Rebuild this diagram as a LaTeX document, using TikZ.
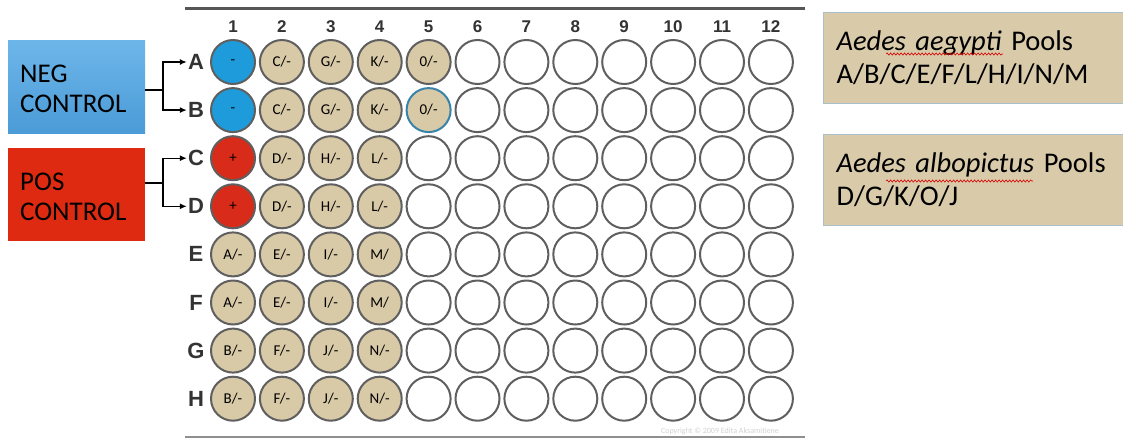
\documentclass[tikz,border=0pt]{standalone}
\usepackage{fontspec}
\setmainfont{Carlito}
\newfontfamily\arialfont{Liberation Sans}
\usetikzlibrary{arrows.meta,decorations.pathmorphing}
\definecolor{wellgray}{HTML}{5F5F5F}
\definecolor{tanwell}{HTML}{D8C9A7}
\definecolor{tanbox}{HTML}{D9CBAA}
\definecolor{tanedge}{HTML}{A9BFCC}
\definecolor{negwell}{HTML}{1E9BDA}
\definecolor{poswell}{HTML}{D92B1A}
\definecolor{negtop}{HTML}{6DB6EA}
\definecolor{negbot}{HTML}{4B9BD7}
\definecolor{posfill}{HTML}{DF2A12}
\definecolor{labgray}{HTML}{333333}
\tikzset{
  well/.style={circle, minimum size=44, inner sep=0, draw=wellgray, line width=2,
    font=\fontsize{15}{15}\selectfont, text=black},
  emptywell/.style={well, fill=white},
  rowlab/.style={font=\arialfont\bfseries\fontsize{22}{22}\selectfont, text=labgray, inner sep=1},
  collab/.style={font=\arialfont\bfseries\fontsize{17}{17}\selectfont, text=labgray},
  ctrlbox/.style={rectangle, minimum width=137, minimum height=93, anchor=north west, inner sep=0},
  ctrltext/.style={anchor=west, align=left, inner sep=0, font=\fontsize{27}{30}\selectfont, text=black},
  poolbox/.style={rectangle, fill=tanbox, draw=tanedge, line width=1, anchor=north west,
    minimum width=310, minimum height=91, text width=290, align=left, inner xsep=13,
    font=\fontsize{28.5}{33}\selectfont},
  bracket/.style={line width=1.4, black},
  arr/.style={bracket, -{Latex[length=7,width=6]}},
  squiggle/.style={red!85!black, line width=0.6, decorate,
    decoration={snake, amplitude=1.1, segment length=3.5}}
}
\begin{document}
\begin{tikzpicture}[x=1pt,y=-1pt]
\useasboundingbox[fill=white] (0,0) rectangle (1123,442);
% plate frame lines
\draw[draw=wellgray!90!black, line width=3] (185,8) -- (805,8);
\draw[draw=wellgray!70, line width=2.5] (185,437) -- (805,437);
% column headers
\foreach \c in {1,...,12}
  \node[collab] (col\c) at ({233+(\c-1)*48.9},27) {\c};
% row labels
\foreach \r/\L in {1/A,2/B,3/C,4/D,5/E,6/F,7/G,8/H}
  \node[rowlab] (lbl\L) at (196,{62+(\r-1)*48.1}) {\L};
% empty wells
\foreach \r/\L in {1/A,2/B,3/C,4/D,5/E,6/F,7/G,8/H}{
  \foreach \c in {6,...,12}{
    \node[emptywell] (w\L\c) at ({233+(\c-1)*48.9},{62+(\r-1)*48.1}) {};
  }
}
\foreach \r/\L in {3/C,4/D,5/E,6/F,7/G,8/H}
  \node[emptywell] (w\L5) at (428.6,{62+(\r-1)*48.1}) {};
% control wells
\node[well, fill=negwell] (wA1) at (233,62) {-};
\node[well, fill=negwell] (wB1) at (233,110.1) {-};
\node[well, fill=poswell] (wC1) at (233,158.2) {+};
\node[well, fill=poswell] (wD1) at (233,206.3) {+};
% sample wells
\foreach \r/\L/\a/\b/\d in
  {1/A/C/G/K, 2/B/C/G/K, 3/C/D/H/L, 4/D/D/H/L, 7/G/F/J/N, 8/H/F/J/N}{
  \node[well, fill=tanwell] (w\L2) at (281.9,{62+(\r-1)*48.1}) {\a/-};
  \node[well, fill=tanwell] (w\L3) at (330.8,{62+(\r-1)*48.1}) {\b/-};
  \node[well, fill=tanwell] (w\L4) at (379.7,{62+(\r-1)*48.1}) {\d/-};
}
\foreach \r/\L in {5/E,6/F}{
  \node[well, fill=tanwell] (w\L1) at (233,{62+(\r-1)*48.1}) {A/-};
  \node[well, fill=tanwell] (w\L2) at (281.9,{62+(\r-1)*48.1}) {E/-};
  \node[well, fill=tanwell] (w\L3) at (330.8,{62+(\r-1)*48.1}) {I/-};
  \node[well, fill=tanwell] (w\L4) at (379.7,{62+(\r-1)*48.1}) {M/};
}
\foreach \r/\L in {7/G,8/H}
  \node[well, fill=tanwell] (w\L1) at (233,{62+(\r-1)*48.1}) {B/-};
\node[well, fill=tanwell] (wA5) at (428.6,62) {0/-};
\node[well, fill=tanwell, draw=negwell!60!wellgray] (wB5) at (428.6,110.1) {0/-};
% control boxes
\node[ctrlbox, top color=negtop, bottom color=negbot] (neg) at (8,40) {};
\node[ctrltext] (negtxt) at ([xshift=12,yshift=-2]neg.west) {NEG\\CONTROL};
\node[ctrlbox, fill=posfill] (pos) at (8,148) {};
\node[ctrltext] (postxt) at ([xshift=12,yshift=-2]pos.west) {POS\\CONTROL};
% brackets
\coordinate (nj) at (163,90);
\coordinate (pj) at (163,183);
\draw[bracket] (neg.east |- nj) -- (nj);
\draw[arr] (nj) |- (lblA.west);
\draw[arr] (nj) |- (lblB.west);
\draw[bracket] (pos.east |- pj) -- (pj);
\draw[arr] (pj) |- (lblC.west);
\draw[arr] (pj) |- (lblD.west);
% pool boxes
\node[poolbox] (aeg) at (823,12) {\textit{Aedes aegypti} Pools\\A/B/C/E/F/L/H/I/N/M};
\node[poolbox] (alb) at (823,134) {\textit{Aedes albopictus} Pools\\D/G/K/O/J};
\draw[squiggle] (886,54) -- (1003,54);
\draw[squiggle] (886,181) -- (1033,181);
% copyright
\node[font=\fontsize{8}{8}\selectfont, text=gray!35] (copy) at (720,431) {Copyright \textcopyright{} 2009 Edita Aksamitiene};
\end{tikzpicture}
\end{document}
